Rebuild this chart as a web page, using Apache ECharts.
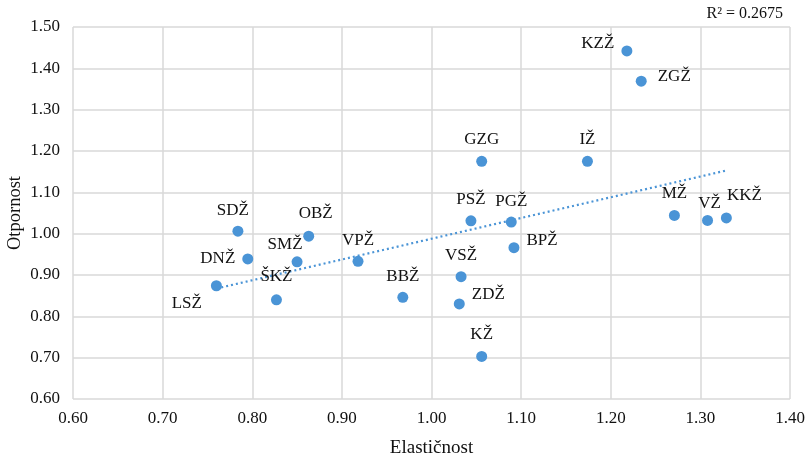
<!DOCTYPE html>
<html><head><meta charset="utf-8">
<script src="https://cdn.jsdelivr.net/npm/echarts@6/dist/echarts.min.js"></script>
<style>html,body{margin:0;padding:0;background:#fff}#c{width:807px;height:456px}</style>
</head><body><div id="c"></div>
<script>
const names = ['LSŽ','SDŽ','DNŽ','ŠKŽ','SMŽ','OBŽ','VPŽ','BBŽ','VSŽ','ZDŽ','KŽ','PSŽ','GZG','PGŽ','BPŽ','IŽ','KZŽ','ZGŽ','MŽ','VŽ','KKŽ'];
const elasticity = [0.760,0.784,0.795,0.827,0.850,0.863,0.918,0.968,1.033,1.031,1.056,1.044,1.056,1.089,1.092,1.174,1.218,1.234,1.271,1.308,1.329];
const resistance = [0.874,1.006,0.939,0.840,0.932,0.994,0.933,0.846,0.896,0.830,0.703,1.031,1.175,1.028,0.966,1.175,1.442,1.369,1.044,1.032,1.038];
const rSquaredText = 'R² = 0.2675';
const xTicks = {min:0.6, max:1.4, interval:0.1};
const yTicks = {min:0.6, max:1.5, interval:0.1};

// label placement (style only)
const labelPlace = {
  'LSŽ':{position:'left',offset:[-4,18]},
  'SDŽ':{position:'top',offset:[-5,-2]},
  'DNŽ':{position:'left',offset:[-2,0]},
  'ŠKŽ':{position:'top',offset:[0,-4]},
  'SMŽ':{position:'top',offset:[-12,2]},
  'OBŽ':{position:'top',offset:[7,-4]},
  'VPŽ':{position:'top',offset:[0,-2]},
  'BBŽ':{position:'top',offset:[0,-2]},
  'VSŽ':{position:'top',offset:[0,-2]},
  'ZDŽ':{position:'right',offset:[2,-9]},
  'KŽ':{position:'top',offset:[0,-3]},
  'PSŽ':{position:'top',offset:[0,-2]},
  'GZG':{position:'top',offset:[0,-3]},
  'PGŽ':{position:'top',offset:[0,-2]},
  'BPŽ':{position:'right',offset:[2,-7]},
  'IŽ':{position:'top',offset:[0,-3]},
  'KZŽ':{position:'left',offset:[-2,-7]},
  'ZGŽ':{position:'right',offset:[6,-5]},
  'MŽ':{position:'top',offset:[0,-3]},
  'VŽ':{position:'top',offset:[2,2]},
  'KKŽ':{position:'top',offset:[18,-3]}
};

// linear trend from data
const n = elasticity.length;
let sx=0,sy=0,sxx=0,sxy=0;
for(let i=0;i<n;i++){sx+=elasticity[i];sy+=resistance[i];sxx+=elasticity[i]*elasticity[i];sxy+=elasticity[i]*resistance[i];}
const slope=(n*sxy-sx*sy)/(n*sxx-sx*sx);
const icpt=(sy-slope*sx)/n;
const xMin=Math.min(...elasticity), xMax=Math.max(...elasticity);
const trend=[[xMin,icpt+slope*xMin],[xMax,icpt+slope*xMax]];

const font='"Liberation Serif","Times New Roman",serif';
const txt='#111';
const blue='#4a94d6';
const chart = echarts.init(document.getElementById('c'));
chart.setOption({
  animation:false,
  textStyle:{fontFamily:font},
  grid:{left:73,right:17,top:27,bottom:57,containLabel:false,outerBoundsMode:'none'},
  xAxis:{type:'value',min:xTicks.min,max:xTicks.max,interval:xTicks.interval,
    name:'Elastičnost',nameLocation:'middle',nameGap:40,nameMoveOverlap:false,
    nameTextStyle:{fontFamily:font,fontSize:19,color:txt},
    axisLine:{show:false},axisTick:{show:false},
    axisLabel:{fontFamily:font,fontSize:17,color:txt,margin:11,formatter:v=>v.toFixed(2)},
    splitLine:{show:true,lineStyle:{color:'#d9d9d9',width:1.5}}},
  yAxis:{type:'value',min:yTicks.min,max:yTicks.max,interval:yTicks.interval,
    name:'Otpornost',nameLocation:'middle',nameGap:48,nameMoveOverlap:false,
    nameTextStyle:{fontFamily:font,fontSize:18.5,color:txt},
    axisLine:{show:false},axisTick:{show:false},
    axisLabel:{fontFamily:font,fontSize:17,color:txt,margin:13,formatter:v=>v.toFixed(2)},
    splitLine:{show:true,lineStyle:{color:'#d9d9d9',width:1.5}}},
  graphic:[{type:'text',right:24,top:6,style:{text:rSquaredText,font:'16px '+font,fill:txt}}],
  series:[
    {type:'line',data:trend,symbol:'none',silent:true,z:1,
     lineStyle:{color:blue,width:2.2,type:[2,3],opacity:1}},
    {type:'scatter',symbolSize:11,z:3,itemStyle:{color:blue,opacity:1},
     label:{show:true,fontFamily:font,fontSize:17,color:txt,opacity:1,formatter:p=>p.data.name},
     data:names.map((nm,i)=>({name:nm,value:[elasticity[i],resistance[i]],label:labelPlace[nm]}))}
  ]
});
</script></body></html>
